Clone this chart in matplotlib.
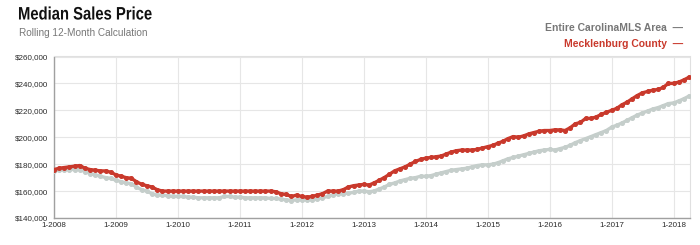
import matplotlib
matplotlib.use("Agg")
import matplotlib.pyplot as plt
import matplotlib.patheffects as pe
from matplotlib.transforms import Affine2D
import numpy as np
import pandas as pd

plt.rcParams['font.family'] = ['Liberation Sans', 'DejaVu Sans']

dates = pd.date_range("2008-01-01", "2018-04-01", freq="MS")

mecklenburg = [
    176, 177, 177.5, 178, 178.5, 179, 177, 176, 175.5, 175, 175, 174,          # 2008
    172, 171, 170, 169.5, 167, 165, 164, 163, 161, 160, 160, 160,              # 2009
    160, 160, 160, 160, 160, 160, 160, 160, 160, 160, 160, 160,                # 2010
    160, 160, 160, 160, 160, 160, 160, 159.5, 158, 157.5, 156, 157,            # 2011
    156, 155.5, 156, 157, 158, 160, 160, 160, 161, 163, 164, 164.5,            # 2012
    165, 164.5, 166, 168, 170, 172.5, 175, 176.5, 178, 180, 182, 183.5,        # 2013
    184.5, 185, 185.5, 186, 187.5, 189, 190, 190.5, 190.5, 190.5, 191, 192,    # 2014
    193, 194, 195.5, 197, 199, 200.5, 200, 201, 202.5, 203.5, 204.5, 205,      # 2015
    205, 205.5, 205.5, 205, 207, 210, 211, 214, 214, 215, 217, 218.5,          # 2016
    220, 221.5, 224, 226, 228.5, 231, 233, 234, 235, 235.5, 237, 240,          # 2017
    240, 241, 242.5, 244.5,                                                    # 2018
]

carolina_mls = [
    175, 175.5, 176, 176, 176, 176, 174.5, 173, 172, 171, 170, 169.5,          # 2008
    168, 167, 166, 165.5, 163, 161, 160, 158, 157, 157, 156.5, 156,            # 2009
    156, 156, 155.5, 155.5, 155, 155, 155, 155, 155, 156, 156, 155.5,          # 2010
    155.5, 155, 155, 155, 155, 155, 154.5, 154.5, 154, 153.5, 153, 153.5,      # 2011
    153.5, 153.5, 153.5, 154, 155, 156, 157, 158, 158, 158.5, 159, 160,        # 2012
    160, 159.5, 160, 161.5, 163, 165, 166, 167.5, 168.5, 169.5, 170, 171,      # 2013
    171, 171.5, 172.5, 173.5, 174.5, 175.5, 176, 176.5, 177, 178, 179, 179.5,  # 2014
    179.5, 180, 181, 182.5, 184, 185, 186, 187, 188, 189, 190, 190.5,          # 2015
    191, 190.5, 191.5, 192.5, 194, 196, 197.5, 199, 200.5, 202, 203.5, 205,    # 2016
    207.5, 209, 210.5, 212.5, 214.5, 216.5, 218, 219.5, 221, 222, 223.5, 225,  # 2017
    225.5, 227, 228.5, 230.5,                                                  # 2018
]

y_ticks = [140000, 160000, 180000, 200000, 220000, 240000, 260000]
x_tick_years = list(range(2008, 2019))

RED = "#c9392c"
GRAY = "#c5cecb"


class Squeeze(pe.AbstractPathEffect):
    """Horizontally condense text about a fixed display x position."""
    def __init__(self, x0, sx):
        super().__init__()
        self.x0 = x0
        self.sx = sx

    def draw_path(self, renderer, gc, tpath, affine, rgbFace=None):
        t = affine + Affine2D().translate(-self.x0, 0).scale(self.sx, 1).translate(self.x0, 0)
        renderer.draw_path(gc, tpath, t, rgbFace)


fig = plt.figure(figsize=(7, 2.45), dpi=100)
ax = fig.add_axes([54/700, 1-218/245, (690-54)/700, (218-56.5)/245])

ax.plot(dates, np.array(carolina_mls)*1000, color=GRAY, lw=2.4, marker='o', ms=2.6, zorder=3)
ax.plot(dates, np.array(mecklenburg)*1000, color=RED, lw=2.4, marker='o', ms=2.6, zorder=4)

ax.set_ylim(140000, 260000)
ax.set_xlim(pd.Timestamp("2008-01-01"), pd.Timestamp("2018-04-08"))
ax.set_yticks(y_ticks)
ax.set_yticklabels([f"${v:,.0f}" for v in y_ticks])
xt = [pd.Timestamp(f"{y}-01-01") for y in x_tick_years]
ax.set_xticks(xt)
ax.set_xticklabels([f"1-{y}" for y in x_tick_years])
ax.tick_params(axis='both', labelsize=5.8, colors="#2a2a2a", length=0)
ax.tick_params(axis='y', pad=4.5)
ax.tick_params(axis='x', pad=3)
ax.grid(True, color="#e6e6e6", lw=0.8, zorder=0)
for s in ['top', 'right']:
    ax.spines[s].set_color("#e0e0e0")
    ax.spines[s].set_linewidth(0.8)
for s in ['left', 'bottom']:
    ax.spines[s].set_color("#a0a0a0")
    ax.spines[s].set_linewidth(1.0)

fig.text(18/700, 1-15/245, "Median Sales Price", fontsize=13, fontweight='bold',
         ha='left', va='center', color="#111111",
         path_effects=[Squeeze(18, 0.82)])
fig.text(19/700, 1-33/245, "Rolling 12-Month Calculation", fontsize=7.2,
         ha='left', va='center', color="#777777")
fig.text(683/700, 1-28/245, "Entire CarolinaMLS Area  \u2014", fontsize=7.5, fontweight='bold',
         ha='right', va='center', color="#777777")
fig.text(683/700, 1-44/245, "Mecklenburg County  \u2014", fontsize=7.5, fontweight='bold',
         ha='right', va='center', color=RED)

fig.savefig("out.png", dpi=100)
